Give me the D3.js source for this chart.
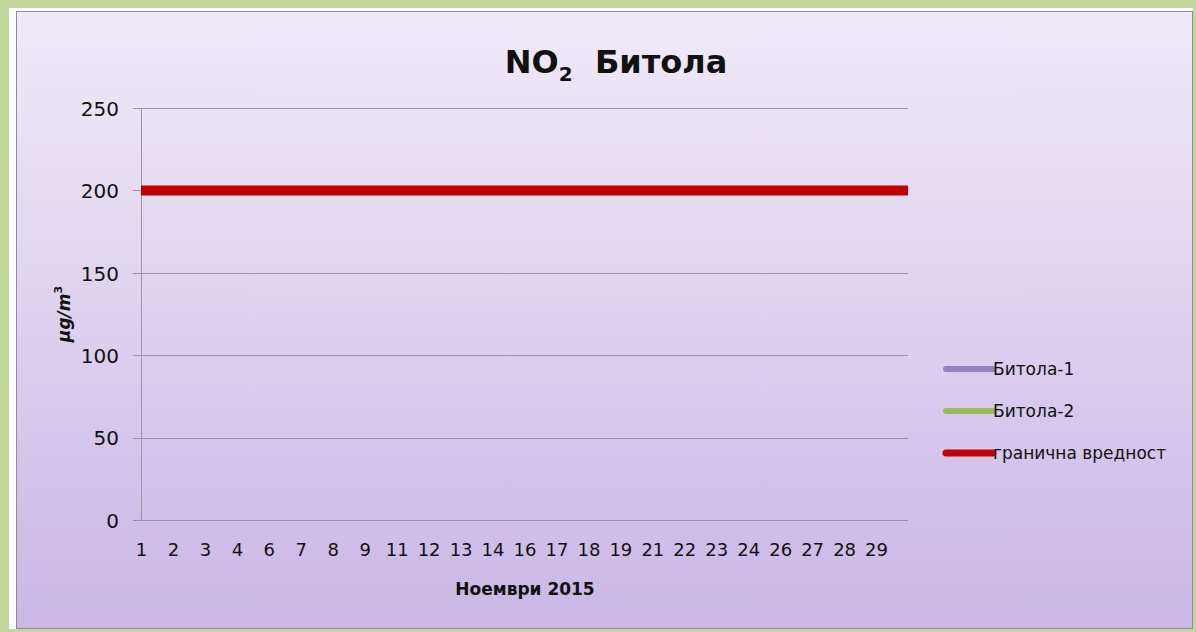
<!DOCTYPE html>
<html><head><meta charset="utf-8">
<script src="https://cdn.jsdelivr.net/npm/d3@7"></script>
<style>
html,body{margin:0;padding:0;background:#c3d69b;}
svg{display:block;}
text{font-family:"Comic Sans MS","DejaVu Sans",sans-serif;fill:#111;}
</style></head>
<body>
<script>
// ---- data ----
const days = ["1","2","3","4","6","7","8","9","11","12","13","14","16","17","18","19","21","22","23","24","26","27","28","29",""];
const bitola1 = [null,null,null,null,null,null,null,null,null,null,null,null,null,null,null,null,null,null,null,null,null,null,null,null,null];
const bitola2 = [null,null,null,null,null,null,null,null,null,null,null,null,null,null,null,null,null,null,null,null,null,null,null,null,null];
const limitValue = [200,200,200,200,200,200,200,200,200,200,200,200,200,200,200,200,200,200,200,200,200,200,200,200,200];
const yTicks = [0,50,100,150,200,250];
const seriesNames = ["Битола-1","Битола-2","гранична вредност"];
const seriesColors = ["#9484bd","#9bbb59","#c00000"];

(function(){
const W = 1196, H = 632;
const svg = d3.select("body").append("svg").attr("width", W).attr("height", H);
const defs = svg.append("defs");
const g = defs.append("linearGradient").attr("id","bg").attr("x1",0).attr("y1",0).attr("x2",0).attr("y2",1);
g.append("stop").attr("offset","0%").attr("stop-color","#f0eaf8");
g.append("stop").attr("offset","50%").attr("stop-color","#ddd1ef");
g.append("stop").attr("offset","100%").attr("stop-color","#c8b7e5");

// frame
svg.append("rect").attr("x",9).attr("y",8).attr("width",1184).attr("height",621).attr("fill","#ffffff");
svg.append("rect").attr("x",16.5).attr("y",11.5).attr("width",1176).attr("height",617).attr("fill","url(#bg)").attr("stroke","#8c8c9c").attr("stroke-width",1);

const pL = 141, pR = 908, pT = 108, pB = 520;
const x = d3.scalePoint().domain(days).range([pL, pR]);
const y = d3.scaleLinear().domain([0,250]).range([pB, pT]);

// gridlines
svg.append("g").selectAll("line").data(yTicks).join("line")
  .attr("x1", pL-8).attr("x2", pR).attr("y1", d=>Math.round(y(d))+0.5).attr("y2", d=>Math.round(y(d))+0.5)
  .attr("stroke","#9a95a3").attr("stroke-width",1);
// y axis line
svg.append("line").attr("x1",pL+0.5).attr("x2",pL+0.5).attr("y1",pT).attr("y2",pB+0.5).attr("stroke","#9a95a3");

// y labels
const yAxis = d3.axisLeft(y).tickValues(yTicks).tickSize(0).tickPadding(0);
const ya = svg.append("g").attr("transform",`translate(${pL-22},0)`).call(yAxis);
ya.select(".domain").remove();
ya.attr("font-family",null).attr("font-size",null);
ya.selectAll("text").attr("font-size",20).attr("fill","#111").attr("dy","0.36em");

// x labels
const xAxis = d3.axisBottom(x).tickSize(0).tickPadding(0);
const xa = svg.append("g").attr("transform",`translate(0,${pB+23})`).call(xAxis);
xa.select(".domain").remove();
xa.attr("font-family",null).attr("font-size",null);
xa.selectAll("text").attr("font-size",18).attr("fill","#111").attr("dy","0.71em").attr("y",0);

// lines
const line = d3.line().defined(d=>d.v!=null).x(d=>x(d.day)).y(d=>y(d.v));
const toPts = arr => arr.map((v,i)=>({day:days[i], v}));
svg.append("path").datum(toPts(bitola1)).attr("d",line).attr("fill","none").attr("stroke",seriesColors[0]).attr("stroke-width",4);
svg.append("path").datum(toPts(bitola2)).attr("d",line).attr("fill","none").attr("stroke",seriesColors[1]).attr("stroke-width",4);
svg.append("path").datum(toPts(limitValue)).attr("d",line).attr("fill","none").attr("stroke",seriesColors[2]).attr("stroke-width",10);

// title
const t = svg.append("text").attr("x",616).attr("y",73).attr("text-anchor","middle").attr("font-size",32).attr("font-weight","bold");
t.append("tspan").text("NO");
t.append("tspan").text("2").attr("font-size",20).attr("dy",8);
t.append("tspan").text("\u00a0\u00a0Битола").attr("dy",-8);

// y axis title
const yt = svg.append("text").attr("transform","translate(70,314) rotate(-90)").attr("text-anchor","middle").attr("font-size",17).attr("font-weight","bold");
yt.append("tspan").text("µg/m").attr("font-style","italic");
yt.append("tspan").text("3").attr("font-size",11).attr("dy",-8);

// x axis title
svg.append("text").attr("x",525).attr("y",595).attr("text-anchor","middle").attr("font-size",17).attr("font-weight","bold").text("Ноември 2015");

// legend
const lg = svg.append("g").selectAll("g").data(seriesNames).join("g")
  .attr("transform",(d,i)=>`translate(946,${369 + i*42})`);
lg.append("line").attr("x1",0).attr("x2",47).attr("y1",0).attr("y2",0)
  .attr("stroke",(d,i)=>seriesColors[i]).attr("stroke-width",(d,i)=>i==2?7:6).attr("stroke-linecap","round");
lg.append("text").attr("x",47).attr("y",0).attr("dy","0.36em").attr("font-size",17).text(d=>d);
})();
</script>
</body></html>
